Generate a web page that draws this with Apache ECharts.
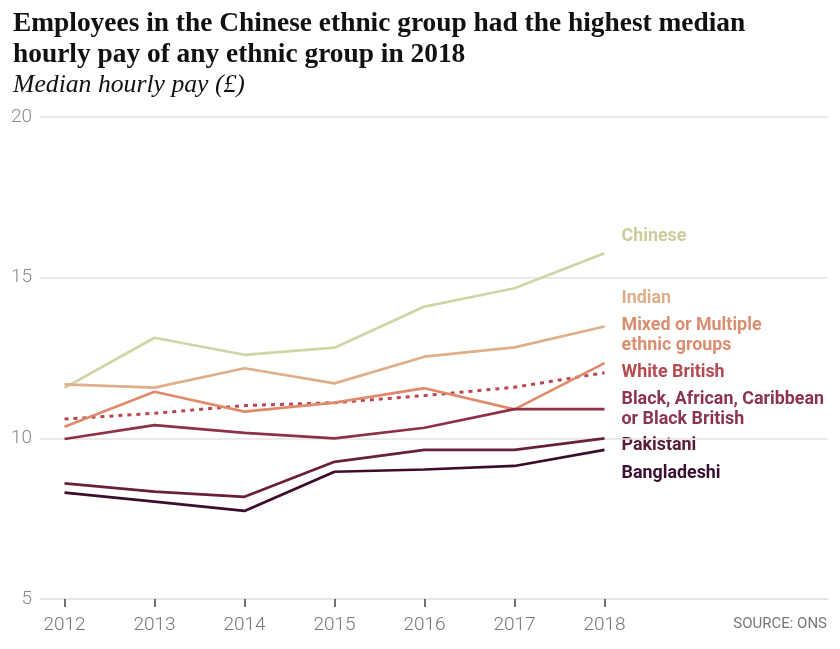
<!DOCTYPE html>
<html><head><meta charset="utf-8">
<script src="https://cdn.jsdelivr.net/npm/echarts@6/dist/echarts.min.js"></script>
<style>html,body{margin:0;padding:0;background:#fff}#c{width:840px;height:649px}</style>
</head><body><div id="c"></div>
<script>
var years = [2012, 2013, 2014, 2015, 2016, 2017, 2018];
var chinese     = [11.57, 13.13, 12.60, 12.82, 14.10, 14.67, 15.76];
var indian      = [11.68, 11.58, 12.18, 11.71, 12.54, 12.83, 13.48];
var mixed       = [10.36, 11.45, 10.83, 11.11, 11.56, 10.90, 12.34];
var whiteBritish= [10.60, 10.78, 11.02, 11.11, 11.33, 11.59, 12.04];
var black       = [9.98, 10.41, 10.17, 10.00, 10.33, 10.91, 10.91];
var pakistani   = [8.60, 8.34, 8.18, 9.27, 9.64, 9.64, 10.00];
var bangladeshi = [8.31, 8.03, 7.74, 8.96, 9.03, 9.14, 9.64];
var yTicks = [5, 10, 15, 20];
var seriesNames = ['Chinese', 'Indian', 'Mixed or Multiple\nethnic groups', 'White British',
  'Black, African, Caribbean\nor Black British', 'Pakistani', 'Bangladeshi'];

var lineColors = ['#d3d4a6', '#e0ae88', '#df8a6c', '#b8474f', '#8f3049', '#6b1f3e', '#3c0b2e'];
var textColors = ['#cccc9c', '#dcae8a', '#d98e70', '#b64a50', '#8b3450', '#5a1a3a', '#3b0f30'];
var labelOffsets = [[17, -17], [17, -28], [17, -28], [17, -1], [17, 0], [17, 7], [17, 23]];
var allData = [chinese, indian, mixed, whiteBritish, black, pakistani, bangladeshi];

function pairs(v){ return years.map(function(y,i){ return [y, v[i]]; }); }
var series = allData.map(function(d, i){
  var dashed = i === 3;
  return {
    type: 'line', name: seriesNames[i], data: pairs(d), symbol: 'none', silent: true,
    lineStyle: { color: lineColors[i], width: dashed ? 3 : 2.7, type: dashed ? [4, 5] : 'solid', cap: 'butt' },
    z: dashed ? 1 : 2
  };
});

var chart = echarts.init(document.getElementById('c'), null, {renderer: 'canvas'});
var serif = '"Liberation Serif", "DejaVu Serif", serif';
var baseGraphics = [
  { type: 'text', x: 13, y: 23.5, style: { text: 'Employees in the Chinese ethnic group had the highest median', fill: '#111', font: 'bold 27.4px ' + serif, verticalAlign: 'middle' } },
  { type: 'text', x: 13, y: 54.5, style: { text: 'hourly pay of any ethnic group in 2018', fill: '#111', font: 'bold 27.4px ' + serif, verticalAlign: 'middle' } },
  { type: 'text', x: 13, y: 85, style: { text: 'Median hourly pay (£)', fill: '#111', font: 'italic 25.7px ' + serif, verticalAlign: 'middle' } },
  { type: 'text', right: 13, top: 617, style: { text: 'SOURCE: ONS', fill: '#777', font: '15px Roboto, sans-serif' } }
];
chart.setOption({
  animation: false,
  grid: { left: 40, right: 12, top: 117, bottom: 50, containLabel: false },
  graphic: baseGraphics,
  xAxis: {
    type: 'value', min: 2012 - 24.5/90, max: 2012 + 763.5/90,
    splitLine: { show: false },
    axisLine: { show: true, lineStyle: { color: '#e3e3e3', width: 1.5 } },
    axisTick: { show: true, customValues: years, length: 8, lineStyle: { color: '#444', width: 1.5 } },
    axisLabel: { customValues: years, color: '#777', fontSize: 19, fontWeight: 300, fontFamily: 'Roboto, sans-serif', margin: 17, formatter: function(v){ return String(v); } }
  },
  yAxis: {
    type: 'value', min: 5, max: 20, interval: 5,
    axisLine: { show: false }, axisTick: { show: false },
    splitLine: { lineStyle: { color: '#e3e3e3', width: 1.5 } },
    axisLabel: { color: '#888', fontSize: 19, fontWeight: 300, fontFamily: 'Roboto, sans-serif', margin: 8, customValues: yTicks }
  },
  series: series
});

// end labels, positioned from each series' last data point through the chart's own scales
var labelGraphics = allData.map(function(d, i){
  var last = d.length - 1;
  var p = chart.convertToPixel({ gridIndex: 0 }, [years[last], d[last]]);
  return {
    type: 'text', x: p[0] + labelOffsets[i][0], y: p[1] + labelOffsets[i][1], scaleX: 0.94,
    silent: true,
    style: { text: seriesNames[i], fill: textColors[i], font: 'bold 19px Roboto, sans-serif',
      lineHeight: 20, align: 'left', verticalAlign: 'middle' }
  };
});
chart.setOption({ graphic: baseGraphics.concat(labelGraphics) });
</script></body></html>
